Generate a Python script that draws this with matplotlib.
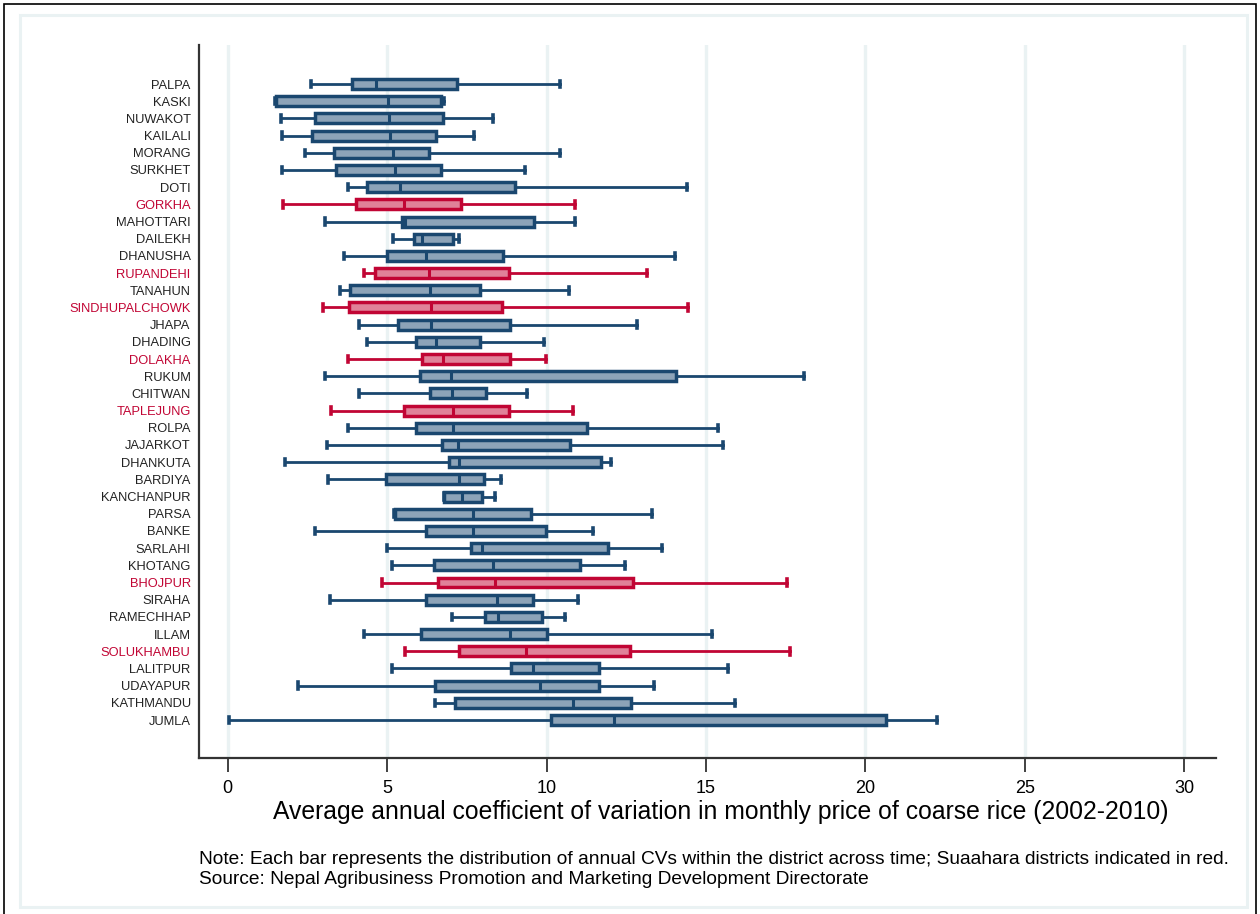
import matplotlib
matplotlib.use("Agg")
import matplotlib.pyplot as plt
from matplotlib.patches import Rectangle
import numpy as np

plt.rcParams['font.family'] = ['Liberation Sans', 'DejaVu Sans']

# districts sorted by median CV (top to bottom)
districts = ['PALPA', 'KASKI', 'NUWAKOT', 'KAILALI', 'MORANG', 'SURKHET', 'DOTI',
             'GORKHA', 'MAHOTTARI', 'DAILEKH', 'DHANUSHA', 'RUPANDEHI', 'TANAHUN',
             'SINDHUPALCHOWK', 'JHAPA', 'DHADING', 'DOLAKHA', 'RUKUM', 'CHITWAN',
             'TAPLEJUNG', 'ROLPA', 'JAJARKOT', 'DHANKUTA', 'BARDIYA', 'KANCHANPUR',
             'PARSA', 'BANKE', 'SARLAHI', 'KHOTANG', 'BHOJPUR', 'SIRAHA', 'RAMECHHAP',
             'ILLAM', 'SOLUKHAMBU', 'LALITPUR', 'UDAYAPUR', 'KATHMANDU', 'JUMLA']
suaahara = ['GORKHA', 'RUPANDEHI', 'SINDHUPALCHOWK', 'DOLAKHA', 'TAPLEJUNG',
            'BHOJPUR', 'SOLUKHAMBU']

whislo = [2.60, 1.48, 1.68, 1.71, 2.41, 1.70, 3.76, 1.75, 3.06, 5.18, 3.64, 4.27, 3.52,
          2.98, 4.12, 4.37, 3.78, 3.06, 4.13, 3.25, 3.78, 3.12, 1.79, 3.16, 6.80, 5.21,
          2.75, 4.99, 5.14, 4.85, 3.20, 7.04, 4.27, 5.57, 5.15, 2.20, 6.50, 0.03]
q1 = [3.91, 1.50, 2.73, 2.65, 3.35, 3.40, 4.36, 4.03, 5.47, 5.83, 5.01, 4.63, 3.85,
      3.81, 5.33, 5.91, 6.08, 6.02, 6.36, 5.53, 5.91, 6.73, 6.94, 4.96, 6.80, 5.24,
      6.23, 7.62, 6.46, 6.61, 6.23, 8.08, 6.07, 7.24, 8.90, 6.50, 7.13, 10.13]
med = [4.66, 5.03, 5.06, 5.08, 5.20, 5.24, 5.41, 5.52, 5.57, 6.10, 6.23, 6.30, 6.35,
       6.38, 6.38, 6.52, 6.75, 7.01, 7.03, 7.06, 7.08, 7.22, 7.25, 7.27, 7.35, 7.69,
       7.69, 7.99, 8.33, 8.40, 8.44, 8.49, 8.87, 9.36, 9.59, 9.79, 10.82, 12.13]
q3 = [7.19, 6.68, 6.75, 6.52, 6.31, 6.69, 9.01, 7.31, 9.60, 7.08, 8.63, 8.81, 7.92,
      8.60, 8.84, 7.92, 8.84, 14.06, 8.09, 8.81, 11.28, 10.74, 11.72, 8.05, 7.98, 9.50,
      9.99, 11.92, 11.04, 12.70, 9.57, 9.85, 10.00, 12.63, 11.66, 11.66, 12.66, 20.65]
whishi = [10.41, 6.78, 8.33, 7.72, 10.42, 9.34, 14.40, 10.90, 10.90, 7.25, 14.03, 13.15,
          10.70, 14.43, 12.85, 9.92, 9.97, 18.07, 9.38, 10.82, 15.39, 15.53, 12.03, 8.56,
          8.40, 13.31, 11.45, 13.61, 12.45, 17.54, 10.98, 10.59, 15.19, 17.65, 15.68,
          13.36, 15.91, 22.24]

navy = '#1a476f'
navy_fill = '#8da3b8'
red = '#c10534'
red_fill = '#e08299'
grid_col = '#eaf2f3'

fig = plt.figure(figsize=(12.6, 9.14), dpi=100)
ax = fig.add_axes([199 / 1260, 1 - 758 / 914, (1216 - 199) / 1260, (758 - 45) / 914])

# outer frames (black page border, light inner border)
fig.patches.append(Rectangle((4 / 1260, -0.01), 1252 / 1260, 1.01 - 4 / 914,
                             transform=fig.transFigure, fill=False, edgecolor='black',
                             linewidth=1.2))
fig.patches.append(Rectangle((20 / 1260, 1 - 907 / 914), 1227 / 1260, 892 / 914,
                             transform=fig.transFigure, fill=False, edgecolor=grid_col,
                             linewidth=2.2))

pos = np.arange(len(districts))
for i, name in enumerate(districts):
    col, fill = (red, red_fill) if name in suaahara else (navy, navy_fill)
    stats = [dict(med=med[i], q1=q1[i], q3=q3[i], whislo=whislo[i], whishi=whishi[i])]
    ax.bxp(stats, positions=[pos[i]], orientation='horizontal', widths=0.58,
           capwidths=0.38, showfliers=False, patch_artist=True,
           boxprops=dict(facecolor=fill, edgecolor=col, linewidth=2.5),
           medianprops=dict(color=col, linewidth=2.2),
           whiskerprops=dict(color=col, linewidth=2.0),
           capprops=dict(color=col, linewidth=2.6))

ax.set_ylim(37 + 2.21, -2.27)
ax.set_xlim(-0.9, 31)
ax.set_yticks(pos)
ax.set_yticklabels(districts, fontsize=9.3)
for lab in ax.get_yticklabels():
    lab.set_color(red if lab.get_text() in suaahara else '#222222')
ax.tick_params(axis='y', length=0, pad=6)

ax.set_xticks(np.arange(0, 31, 5))
ax.set_xticklabels([str(v) for v in range(0, 31, 5)], fontsize=13)
ax.tick_params(axis='x', length=10, width=1.3, color='#333333', pad=6)
ax.xaxis.grid(True, color=grid_col, linewidth=2.4)
ax.set_axisbelow(True)

for side in ['top', 'right']:
    ax.spines[side].set_visible(False)
for side in ['left', 'bottom']:
    ax.spines[side].set_color('#333333')
    ax.spines[side].set_linewidth(1.6)

ax.set_xlabel('Average annual coefficient of variation in monthly price of coarse rice (2002-2010)',
              fontsize=17.8)
ax.xaxis.set_label_coords((721 - 199) / 1017, -(812 - 758) / 713, transform=ax.transAxes)
ax.xaxis.label.set_va('center')

fig.text(199 / 1260, 1 - 860 / 914,
         'Note: Each bar represents the distribution of annual CVs within the district across time; '
         'Suaahara districts indicated in red.', fontsize=13.8, va='center', ha='left')
fig.text(199 / 1260, 1 - 879 / 914,
         'Source: Nepal Agribusiness Promotion and Marketing Development Directorate',
         fontsize=13.8, va='center', ha='left')

fig.savefig('out.png', dpi=100)
